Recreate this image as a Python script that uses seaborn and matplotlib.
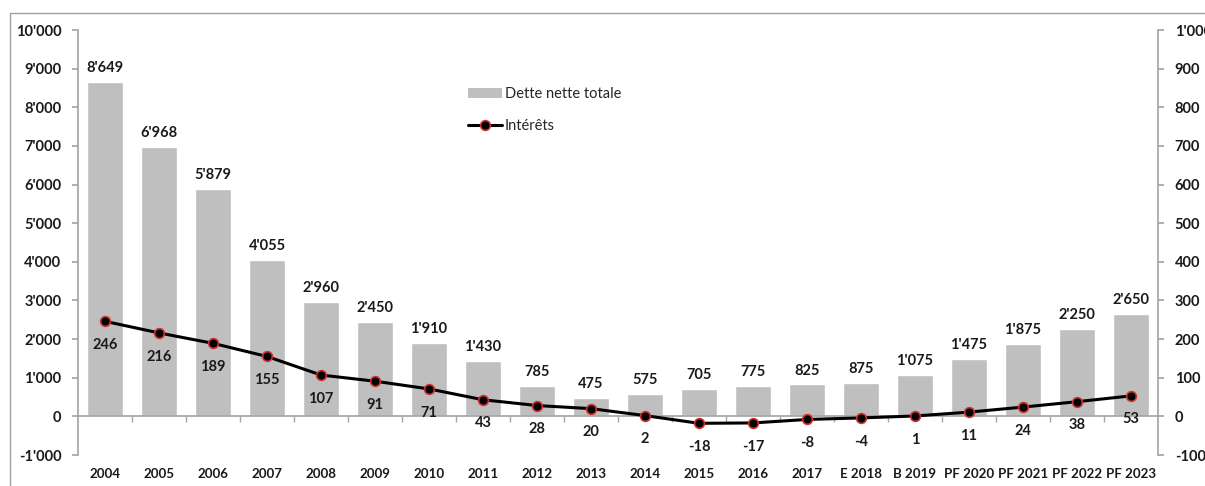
import matplotlib
matplotlib.use("Agg")
import matplotlib.pyplot as plt
import matplotlib.ticker as mticker
from matplotlib.patches import Rectangle, Patch
from matplotlib.lines import Line2D
import seaborn as sns
import pandas as pd

categories = ["2004", "2005", "2006", "2007", "2008", "2009", "2010", "2011", "2012", "2013",
              "2014", "2015", "2016", "2017", "E 2018", "B 2019", "PF 2020", "PF 2021", "PF 2022", "PF 2023"]
dette = [8649, 6968, 5879, 4055, 2960, 2450, 1910, 1430, 785, 475,
         575, 705, 775, 825, 875, 1075, 1475, 1875, 2250, 2650]
interets = [246, 216, 189, 155, 107, 91, 71, 43, 28, 20,
            2, -18, -17, -8, -4, 1, 11, 24, 38, 53]

df = pd.DataFrame({"cat": categories, "dette": dette, "interets": interets})

sns.set_theme(style="white")
plt.rcParams["font.family"] = ["Lato", "DejaVu Sans"]

W, H = 1205, 486
FS = 10.5
TXT = "#1a1a1a"
fig = plt.figure(figsize=(W / 100, H / 100), dpi=100)
ax = fig.add_axes([78 / W, 1 - 455 / H, 1080 / W, (455 - 30) / H])

sns.barplot(data=df, x="cat", y="dette", color="#BFBFBF", saturation=1, width=0.67, ax=ax)
ax.set_ylim(-1000, 10000)
ax.set_xlim(-0.5, len(categories) - 0.5)
if ax.get_legend() is not None:
    ax.get_legend().remove()

def fmt(v):
    return f"{int(round(v)):,}".replace(",", "'")

ax.bar_label(ax.containers[0], labels=[fmt(v) for v in dette], padding=5,
             fontsize=FS, fontweight="bold", color=TXT)

ax2 = ax.twinx()
sns.lineplot(data=df, x="cat", y="interets", sort=False, ax=ax2, color="black", linewidth=2.2,
             marker="o", markersize=7, markerfacecolor="black", markeredgecolor="#D03030",
             markeredgewidth=1.2, legend=False)
ax2.set_ylim(-100, 1000)
ax2.set_xlim(-0.5, len(categories) - 0.5)
for i, v in enumerate(interets):
    ax2.annotate(fmt(v), (i, v), xytext=(0, -17), textcoords="offset points",
                 ha="center", va="center", fontsize=FS, fontweight="bold", color=TXT)

spine_c = "#A6A6A6"
for a in (ax, ax2):
    a.spines["top"].set_visible(False)
    a.set_xlabel("")
    a.set_ylabel("")

ax.spines["right"].set_visible(False)
ax2.spines["left"].set_visible(False)
ax2.spines["bottom"].set_visible(False)
ax.spines["left"].set_color(spine_c)
ax2.spines["right"].set_color(spine_c)
ax.spines["bottom"].set_position(("data", 0))
ax.spines["bottom"].set_color(spine_c)

ax.yaxis.set_major_locator(mticker.MultipleLocator(1000))
ax2.yaxis.set_major_locator(mticker.MultipleLocator(100))
ax.yaxis.set_major_formatter(mticker.FuncFormatter(lambda v, p: fmt(v)))
ax2.yaxis.set_major_formatter(mticker.FuncFormatter(lambda v, p: fmt(v)))

ax.tick_params(axis="y", left=True, length=4, color=spine_c, pad=8, labelsize=FS, labelcolor=TXT)
ax2.tick_params(axis="y", right=True, length=4, color=spine_c, pad=8, labelsize=FS, labelcolor=TXT)
for lab in ax.get_yticklabels() + ax2.get_yticklabels():
    lab.set_fontweight("bold")

ax.set_xticks(range(len(categories)))
ax.set_xticklabels(categories)
ax.set_xticks([i + 0.5 for i in range(len(categories) - 1)], minor=True)
ax.tick_params(axis="x", which="major", length=0, pad=37, labelsize=9.6, labelcolor=TXT)
ax.tick_params(axis="x", which="minor", bottom=True, length=4, color=spine_c, direction="out")
for lab in ax.get_xticklabels():
    lab.set_fontweight("bold")
ax2.tick_params(axis="x", bottom=False, labelbottom=False)

handles = [Patch(facecolor="#BFBFBF", edgecolor="none"),
           Line2D([0], [0], color="black", linewidth=2.2, marker="o", markersize=7,
                  markerfacecolor="black", markeredgecolor="#D03030", markeredgewidth=1.2)]
fig.legend(handles, ["Dette nette totale", "Intérêts"], loc="upper left",
           bbox_to_anchor=(455 / W, 1 - 74 / H), frameon=False, fontsize=FS,
           labelspacing=1.2, handlelength=2.3, handletextpad=0.2, handleheight=0.7)

fig.patches.append(Rectangle((10 / W, -0.1), 2, 1 + 0.1 - 13 / H, transform=fig.transFigure,
                             fill=False, edgecolor="#A0A0A0", linewidth=1))

fig.savefig("out.png", dpi=100)
